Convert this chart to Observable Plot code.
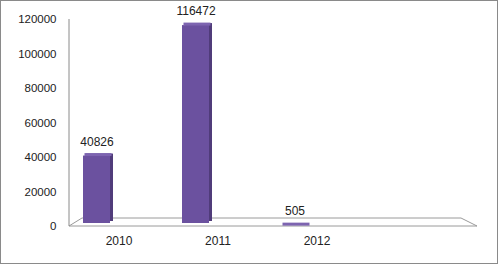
<!DOCTYPE html>
<html>
<head>
<meta charset="utf-8">
<script src="https://cdn.jsdelivr.net/npm/d3@7"></script>
<script src="https://cdn.jsdelivr.net/npm/@observablehq/plot@0.6"></script>
<style>
  html, body { margin: 0; padding: 0; background: #fff; }
  svg { display: block; border: 1px solid #8a8a8a; }
</style>
</head>
<body>
<div id="chart"></div>
<script>
const years = ["2010", "2011", "2012"];
const values = [40826, 116472, 505];
const yTicks = [0, 20000, 40000, 60000, 80000, 100000, 120000];

const data = years.map((year, i) => ({year, value: values[i]}));

// floor + vertical axis line, derived from the plot's dimensions and y scale
function floor(index, scales, channels, dimensions) {
  const {width, marginLeft, marginRight, marginTop} = dimensions;
  const y0 = scales.y(0);
  const x0 = marginLeft, x1 = width - marginRight;
  const g = d3.create("svg:g");
  g.append("polygon")
    .attr("points", [[x0, y0], [x1, y0], [x1 - 16, y0 - 8], [x0 + 13, y0 - 8]].join(" "))
    .attr("fill", "#fff")
    .attr("stroke", "#9a9a9a")
    .attr("stroke-width", 1);
  g.append("line")
    .attr("x1", x0).attr("x2", x0)
    .attr("y1", marginTop).attr("y2", y0)
    .attr("stroke", "#8a8a8a");
  return g.node();
}

const chart = Plot.plot({
  width: 496,
  height: 262,
  marginLeft: 68,
  marginRight: 20,
  marginTop: 18,
  marginBottom: 37,
  style: {fontFamily: "Liberation Sans, Arial, sans-serif", color: "#222", background: "#fff"},
  x: {domain: years, range: [45, 344], paddingInner: 0.729, paddingOuter: 0.3645},
  y: {domain: [0, 120000], ticks: yTicks},
  marks: [
    floor,
    Plot.axisY({ticks: yTicks, tickSize: 0, tickPadding: 13, fontSize: 11.5, tickFormat: d => String(d), label: null}),
    Plot.axisX({tickSize: 0, tickPadding: 10, dx: 22, fontSize: 12, label: null}),
    // side (depth) face
    Plot.barY(data, {x: "year", y: "value", insetBottom: 3, dx: 3, dy: -2, fill: "#503c7a"}),
    // front face
    Plot.barY(data, {x: "year", y: "value", insetBottom: 3, fill: "#6b519f"}),
    // top face
    Plot.tickY(data, {x: "year", y: "value", dx: 1.5, dy: -1.5, stroke: "#7d64b0", strokeWidth: 3}),
    Plot.text(data, {x: "year", y: "value", text: d => String(d.value), dy: -14, fontSize: 12, fill: "#222"})
  ]
});

document.getElementById("chart").appendChild(chart);
</script>
</body>
</html>
